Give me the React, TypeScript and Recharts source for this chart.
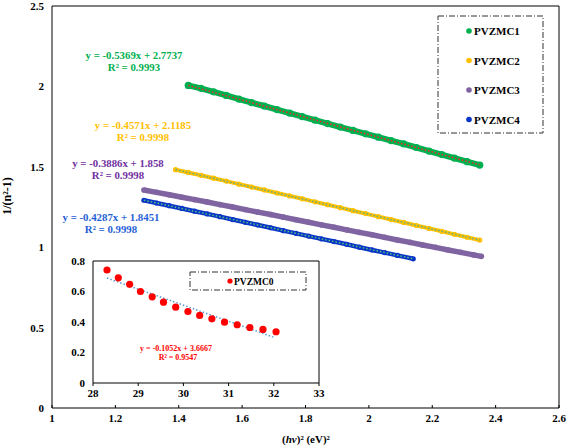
import React from 'react';
import { ScatterChart, Scatter, XAxis, YAxis, ReferenceLine } from 'recharts';

const FONT = '"Liberation Serif", "Times New Roman", serif';

// main chart ticks
const mainXTicks = [1, 1.2, 1.4, 1.6, 1.8, 2, 2.2, 2.4, 2.6];
const mainYTicks = [0, 0.5, 1, 1.5, 2, 2.5];

// PVZMC1
const pvzmc1X = [1.43, 1.47, 1.51, 1.55, 1.59, 1.63, 1.67, 1.71, 1.75, 1.79, 1.83, 1.87, 1.91, 1.95, 1.99, 2.03, 2.07, 2.11, 2.15, 2.19, 2.23, 2.27, 2.31, 2.35];
const pvzmc1Y = [2.006, 1.988, 1.966, 1.944, 1.921, 1.899, 1.878, 1.856, 1.834, 1.812, 1.790, 1.769, 1.747, 1.726, 1.705, 1.684, 1.663, 1.642, 1.620, 1.598, 1.576, 1.554, 1.532, 1.511];

// PVZMC2
const pvzmc2X = [1.39, 1.43, 1.47, 1.51, 1.55, 1.59, 1.63, 1.67, 1.71, 1.75, 1.79, 1.83, 1.87, 1.91, 1.95, 1.99, 2.03, 2.07, 2.11, 2.15, 2.19, 2.23, 2.27, 2.31, 2.35];
const pvzmc2Y = [1.482, 1.465, 1.447, 1.429, 1.411, 1.392, 1.374, 1.356, 1.337, 1.319, 1.301, 1.282, 1.264, 1.246, 1.227, 1.209, 1.190, 1.172, 1.154, 1.135, 1.117, 1.099, 1.080, 1.062, 1.044];

// PVZMC3
const pvzmc3X = [1.29, 1.33, 1.37, 1.41, 1.45, 1.49, 1.53, 1.57, 1.61, 1.65, 1.69, 1.73, 1.77, 1.81, 1.85, 1.89, 1.93, 1.97, 2.01, 2.05, 2.09, 2.13, 2.17, 2.21, 2.25, 2.29, 2.33, 2.355];
const pvzmc3Y = [1.356, 1.341, 1.326, 1.311, 1.296, 1.281, 1.265, 1.250, 1.234, 1.218, 1.203, 1.187, 1.171, 1.155, 1.139, 1.124, 1.108, 1.092, 1.077, 1.061, 1.045, 1.030, 1.014, 0.999, 0.983, 0.968, 0.952, 0.943];

// PVZMC4
const pvzmc4X = [1.29, 1.33, 1.37, 1.41, 1.45, 1.49, 1.53, 1.57, 1.61, 1.65, 1.69, 1.73, 1.77, 1.81, 1.85, 1.89, 1.93, 1.97, 2.01, 2.05, 2.09, 2.14];
const pvzmc4Y = [1.292, 1.275, 1.258, 1.241, 1.224, 1.207, 1.190, 1.172, 1.155, 1.138, 1.121, 1.103, 1.086, 1.069, 1.052, 1.035, 1.018, 1.000, 0.983, 0.966, 0.949, 0.928];

// linear fit end points
const trend1 = [{ x: 1.43, y: 2.006 }, { x: 2.35, y: 1.512 }];
const trend2 = [{ x: 1.39, y: 1.483 }, { x: 2.35, y: 1.044 }];
const trend4 = [{ x: 1.29, y: 1.292 }, { x: 2.14, y: 0.928 }];

// inset (PVZMC0)
const insetXTicks = [28, 29, 30, 31, 32, 33];
const insetYTicks = [0, 0.2, 0.4, 0.6, 0.8];
const pvzmc0X = [28.31, 28.56, 28.81, 29.05, 29.31, 29.56, 29.83, 30.1, 30.36, 30.63, 30.91, 31.19, 31.47, 31.76, 32.05];
const pvzmc0Y = [0.741, 0.69, 0.647, 0.6, 0.565, 0.53, 0.497, 0.469, 0.443, 0.421, 0.399, 0.382, 0.364, 0.351, 0.336];
const trend0 = [{ x: 28.31, y: 0.688 }, { x: 32.0, y: 0.3 }];

const toPoints = (xs: number[], ys: number[]) => xs.map((x, i) => ({ x, y: ys[i] }));

const dot = (r: number, fill: string) => (p: any) => <circle cx={p.cx} cy={p.cy} r={r} fill={fill} />;
const noDot = () => <g />;

const tickStyle = { fontFamily: FONT, fontSize: 11, fontWeight: 700, fill: '#000' };

const Eq = ({ x, y, color, a, b }: { x: number; y: number; color: string; a: string; b: string }) => (
  <g fontFamily={FONT} fontWeight={700} fontSize={10.8} fill={color} textAnchor="middle">
    <text x={x} y={y}>{a}</text>
    <text x={x} y={y + 12}>{b}</text>
  </g>
);

const legendItems = [
  { name: 'PVZMC1', color: '#00b050' },
  { name: 'PVZMC2', color: '#ffc000' },
  { name: 'PVZMC3', color: '#8064a2' },
  { name: 'PVZMC4', color: '#0a36c8' },
];

export default function App() {
  return (
    <div style={{ position: 'absolute', left: 0, top: 0, width: 567, height: 445, background: '#fff' }}>
      <ScatterChart width={567} height={445} margin={{ top: 6, right: 8, left: 0, bottom: 17 }}>
        <XAxis type="number" dataKey="x" domain={[1, 2.6]} ticks={mainXTicks} height={20}
          axisLine={{ stroke: '#000' }} tickLine={{ stroke: '#000' }} tickSize={-3} tickMargin={9} tick={tickStyle} />
        <YAxis type="number" dataKey="y" domain={[0, 2.5]} ticks={mainYTicks} width={52}
          axisLine={{ stroke: '#000' }} tickLine={false} tickSize={-3} tickMargin={11} tick={tickStyle} />
        <ReferenceLine y={2.5} stroke="#000" />
        <ReferenceLine x={2.6} stroke="#000" />
        <Scatter data={toPoints(pvzmc1X, pvzmc1Y)} shape={dot(3.6, '#00b050')} line={{ stroke: '#00b050', strokeWidth: 6 }} lineType="joint" isAnimationActive={false} />
        <Scatter data={toPoints(pvzmc2X, pvzmc2Y)} shape={dot(2.6, '#ffc000')} line={{ stroke: '#ffc000', strokeWidth: 4 }} lineType="joint" isAnimationActive={false} />
        <Scatter data={toPoints(pvzmc3X, pvzmc3Y)} shape={dot(2.8, '#8064a2')} line={{ stroke: '#8064a2', strokeWidth: 5.5 }} lineType="joint" isAnimationActive={false} />
        <Scatter data={toPoints(pvzmc4X, pvzmc4Y)} shape={dot(2.6, '#0a36c8')} line={{ stroke: '#0a36c8', strokeWidth: 4.5 }} lineType="joint" isAnimationActive={false} />
        <Scatter data={trend1} shape={noDot} line={{ stroke: '#ff2020', strokeWidth: 1.5, strokeDasharray: '1.5 2' }} lineType="joint" isAnimationActive={false} />
        <Scatter data={trend2} shape={noDot} line={{ stroke: '#5fae8a', strokeWidth: 1.5, strokeDasharray: '1.5 2' }} lineType="joint" isAnimationActive={false} />
        <Scatter data={trend4} shape={noDot} line={{ stroke: '#56c07a', strokeWidth: 1.5, strokeDasharray: '1.5 2' }} lineType="joint" isAnimationActive={false} />
      </ScatterChart>

      <div style={{ position: 'absolute', left: 60, top: 255 }}>
        <ScatterChart width={265} height={150} margin={{ top: 6, right: 6, left: 0, bottom: 4 }}>
          <XAxis type="number" dataKey="x" domain={[28, 33]} ticks={insetXTicks} height={18}
            axisLine={{ stroke: '#000' }} tickLine={{ stroke: '#000' }} tickSize={3} tickMargin={3} tick={tickStyle} />
          <YAxis type="number" dataKey="y" domain={[0, 0.8]} ticks={insetYTicks} width={33}
            axisLine={{ stroke: '#000' }} tickLine={false} tickSize={0} tickMargin={8} tick={tickStyle} />
          <ReferenceLine y={0.8} stroke="#000" />
          <ReferenceLine x={33} stroke="#000" />
          <Scatter data={trend0} shape={noDot} line={{ stroke: '#5b9bd5', strokeWidth: 1.5, strokeDasharray: '1.5 2' }} lineType="joint" isAnimationActive={false} />
          <Scatter data={toPoints(pvzmc0X, pvzmc0Y)} shape={dot(3.6, '#ff0000')} isAnimationActive={false} />
        </ScatterChart>
      </div>

      <svg width={567} height={445} style={{ position: 'absolute', left: 0, top: 0, pointerEvents: 'none' }}>
        <Eq x={134} y={59} color="#00b050" a="y = -0.5369x + 2.7737" b="R² = 0.9993" />
        <Eq x={143} y={129} color="#ffc000" a="y = -0.4571x + 2.1185" b="R² = 0.9998" />
        <Eq x={118} y={167} color="#7030a0" a="y = -0.3886x + 1.858" b="R² = 0.9998" />
        <Eq x={111} y={221} color="#1f5fd6" a="y = -0.4287x + 1.8451" b="R² = 0.9998" />

        <rect x={438} y={16} width={105} height={117} fill="none" stroke="#333" strokeWidth={1} strokeDasharray="6 2 1 2" />
        {legendItems.map((it, i) => (
          <g key={it.name}>
            <circle cx={469} cy={31 + i * 29.5} r={2.8} fill={it.color} />
            <text x={474} y={35 + i * 29.5} fontFamily={FONT} fontWeight={700} fontSize={11} fill="#000">{it.name}</text>
          </g>
        ))}

        <rect x={190} y={272} width={116} height={18} fill="none" stroke="#333" strokeWidth={1} strokeDasharray="6 2 1 2" />
        <circle cx={230} cy={281} r={2.6} fill="#ff0000" />
        <text x={234} y={284.5} fontFamily={FONT} fontWeight={700} fontSize={9.5} fill="#000">PVZMC0</text>
        <g fontFamily={FONT} fontWeight={700} fontSize={8} fill="#ff0000" textAnchor="middle">
          <text x={176} y={350.5}>y = -0.1052x + 3.6667</text>
          <text x={178} y={360}>R² = 0.9547</text>
        </g>

        <text x={0} y={0} transform="translate(11,196) rotate(-90)" textAnchor="middle" fontFamily={FONT} fontWeight={700} fontSize={12} fill="#000">
          1/(n²-1)
        </text>
        <text x={306} y={443} textAnchor="middle" fontFamily={FONT} fontWeight={700} fontSize={11} fill="#000">
          (<tspan fontStyle="italic">hv</tspan>)² (eV)²
        </text>
      </svg>
    </div>
  );
}
